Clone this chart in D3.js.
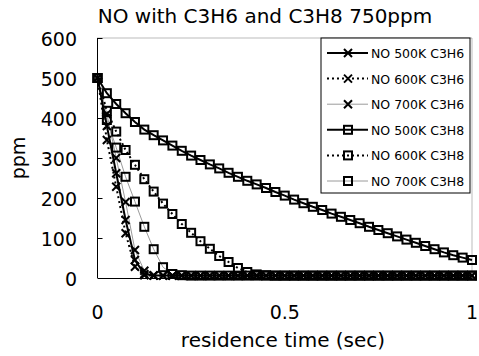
<!DOCTYPE html>
<html>
<head>
<meta charset="utf-8">
<script src="https://cdn.jsdelivr.net/npm/d3@7"></script>
<style>
  body { margin: 0; background: #fff; }
  svg { display: block; }
</style>
</head>
<body>
<div id="chart"></div>
<script>
// residence time (sec), one marker every 0.025 s
var times = [0, 0.025, 0.05, 0.075, 0.1, 0.125, 0.15, 0.175, 0.2, 0.225,
  0.25, 0.275, 0.3, 0.325, 0.35, 0.375, 0.4, 0.425, 0.45, 0.475,
  0.5, 0.525, 0.55, 0.575, 0.6, 0.625, 0.65, 0.675, 0.7, 0.725,
  0.75, 0.775, 0.8, 0.825, 0.85, 0.875, 0.9, 0.925, 0.95, 0.975, 1];

// NO (ppm)
var no500C3H6 = [500, 380, 262, 145, 45, 10, 6, 6, 6, 6,
  6, 6, 6, 6, 6, 6, 6, 6, 6, 6,
  6, 6, 6, 6, 6, 6, 6, 6, 6, 6,
  6, 6, 6, 6, 6, 6, 6, 6, 6, 6, 6];
var no600C3H6 = [500, 345, 228, 112, 28, 7, 6, 6, 6, 6,
  6, 6, 6, 6, 6, 6, 6, 6, 6, 6,
  6, 6, 6, 6, 6, 6, 6, 6, 6, 6,
  6, 6, 6, 6, 6, 6, 6, 6, 6, 6, 6];
var no700C3H6 = [500, 410, 300, 190, 70, 18, 7, 6, 6, 6,
  6, 6, 6, 6, 6, 6, 6, 6, 6, 6,
  6, 6, 6, 6, 6, 6, 6, 6, 6, 6,
  6, 6, 6, 6, 6, 6, 6, 6, 6, 6, 6];
var no500C3H8 = [500, 462, 435, 412, 390, 371, 357, 344, 331, 318,
  306, 295, 284, 274, 263, 253, 243, 234, 225, 215,
  206, 196, 187, 178, 170, 161, 153, 145, 137, 128,
  120, 112, 104, 96, 88, 80, 72, 64, 57, 51, 45];
var no600C3H8 = [500, 418, 366, 320, 283, 247, 216, 186, 160, 135,
  113, 92, 73, 55, 40, 25, 15, 9, 7, 6,
  6, 6, 6, 6, 6, 6, 6, 6, 6, 6,
  6, 6, 6, 6, 6, 6, 6, 6, 6, 6, 6];
var no700C3H8 = [500, 395, 326, 253, 191, 128, 72, 27, 10, 7,
  6, 6, 6, 6, 6, 6, 6, 6, 6, 6,
  6, 6, 6, 6, 6, 6, 6, 6, 6, 6,
  6, 6, 6, 6, 6, 6, 6, 6, 6, 6, 6];

var seriesNames = ["NO 500K C3H6", "NO 600K C3H6", "NO 700K C3H6",
  "NO 500K C3H8", "NO 600K C3H8", "NO 700K C3H8"];
var yTicks = [0, 100, 200, 300, 400, 500, 600];
var xTicks = [0, 0.5, 1];

var width = 479, height = 356;
var margin = { left: 97.5, top: 38, right: 7, bottom: 78 };
var font = "DejaVu Sans, sans-serif";

// line look per series
var styles = [
  { stroke: "#000", width: 2, dash: null, marker: "x" },
  { stroke: "#000", width: 2, dash: "2,3", marker: "x" },
  { stroke: "#9a9a9a", width: 1, dash: null, marker: "x" },
  { stroke: "#000", width: 2, dash: null, marker: "sq" },
  { stroke: "#000", width: 2, dash: "2,3", marker: "sq" },
  { stroke: "#9a9a9a", width: 1, dash: null, marker: "sq" }
];
var allValues = [no500C3H6, no600C3H6, no700C3H6, no500C3H8, no600C3H8, no700C3H8];
var series = seriesNames.map(function (name, i) {
  return { name: name, style: styles[i],
    points: times.map(function (t, j) { return { t: t, v: allValues[i][j] }; }) };
});

var svg = d3.select("#chart").append("svg")
  .attr("width", width)
  .attr("height", height)
  .attr("font-family", font);

var innerWidth = width - margin.left - margin.right;
var innerHeight = height - margin.top - margin.bottom;

var x = d3.scaleLinear().domain([0, 1]).range([margin.left, margin.left + innerWidth]);
var y = d3.scaleLinear().domain([0, 600]).range([margin.top + innerHeight, margin.top]);

// title
svg.append("text")
  .attr("x", 265).attr("y", 23)
  .attr("text-anchor", "middle")
  .attr("font-size", 20)
  .text("NO with C3H6 and C3H8 750ppm");

// plot border: dotted grey top and right
svg.append("path")
  .attr("d", "M" + x(0) + "," + y(600) + "H" + x(1) + "V" + y(0))
  .attr("fill", "none")
  .attr("stroke", "#777")
  .attr("stroke-dasharray", "1,1");

// y axis with inner ticks, labels drawn separately
var yAxisG = svg.append("g")
  .attr("transform", "translate(" + x(0) + ",0)")
  .call(d3.axisRight(y).tickValues(yTicks).tickSize(5));
yAxisG.select(".domain").attr("d", "M0," + y(600) + "V" + y(0));
yAxisG.selectAll("line").attr("stroke", "#000");
yAxisG.selectAll("text").remove();

svg.append("g").selectAll("text")
  .data(yTicks).enter().append("text")
  .attr("x", 77)
  .attr("y", function (d) { return y(d) + 8; })
  .attr("text-anchor", "end")
  .attr("font-size", 19)
  .text(function (d) { return d; });

// x axis line, labels below without tick marks
svg.append("g")
  .attr("transform", "translate(0," + y(0) + ")")
  .call(d3.axisBottom(x).tickValues(xTicks).tickSize(0))
  .call(function (g) { g.selectAll(".tick").remove(); })
  .select(".domain").attr("stroke", "#000");

svg.append("g").selectAll("text")
  .data(xTicks).enter().append("text")
  .attr("x", function (d) { return x(d); })
  .attr("y", 319)
  .attr("text-anchor", "middle")
  .attr("font-size", 19)
  .text(function (d) { return d; });

svg.append("text")
  .attr("x", 283).attr("y", 347)
  .attr("text-anchor", "middle")
  .attr("font-size", 20)
  .text("residence time (sec)");

svg.append("text")
  .attr("transform", "translate(25," + y(300) + ") rotate(-90)")
  .attr("text-anchor", "middle")
  .attr("font-size", 19)
  .text("ppm");

function drawMarker(g, kind) {
  if (kind === "x") {
    g.append("path").attr("d", "M-4,-4L4,4M-4,4L4,-4")
      .attr("stroke", "#000").attr("stroke-width", 2).attr("fill", "none");
  } else {
    g.append("rect").attr("x", -4).attr("y", -4).attr("width", 8).attr("height", 8)
      .attr("stroke", "#000").attr("stroke-width", 2).attr("fill", "none");
  }
}

var line = d3.line().x(function (d) { return x(d.t); }).y(function (d) { return y(d.v); });

var plot = svg.append("g");
// draw grey ones first so the black ones sit on top
var order = [5, 2, 4, 1, 3, 0];
order.forEach(function (i) {
  var s = series[i];
  plot.append("path")
    .datum(s.points)
    .attr("d", line)
    .attr("fill", "none")
    .attr("stroke", s.style.stroke)
    .attr("stroke-width", s.style.width)
    .attr("stroke-dasharray", s.style.dash);
});
order.forEach(function (i) {
  var s = series[i];
  plot.append("g").selectAll("g")
    .data(s.points).enter().append("g")
    .attr("transform", function (d) { return "translate(" + x(d.t) + "," + y(d.v) + ")"; })
    .each(function () { drawMarker(d3.select(this), s.style.marker); });
});

// legend
var legend = svg.append("g").attr("transform", "translate(321,38)");
legend.append("rect")
  .attr("width", 149).attr("height", 155)
  .attr("fill", "#fff").attr("stroke", "#000").attr("stroke-width", 1);
var rows = legend.selectAll("g.row").data(series).enter().append("g")
  .attr("class", "row")
  .attr("transform", function (d, i) { return "translate(0," + (15 + i * 25.6) + ")"; });
rows.append("line")
  .attr("x1", 6).attr("x2", 47).attr("y1", 0).attr("y2", 0)
  .attr("stroke", function (d) { return d.style.stroke; })
  .attr("stroke-width", function (d) { return d.style.width; })
  .attr("stroke-dasharray", function (d) { return d.style.dash; });
rows.append("g").attr("transform", "translate(27,0)")
  .each(function (d) { drawMarker(d3.select(this), d.style.marker); });
rows.append("text")
  .attr("x", 50).attr("y", 5)
  .attr("font-size", 12.5)
  .text(function (d) { return d.name; });
</script>
</body>
</html>
